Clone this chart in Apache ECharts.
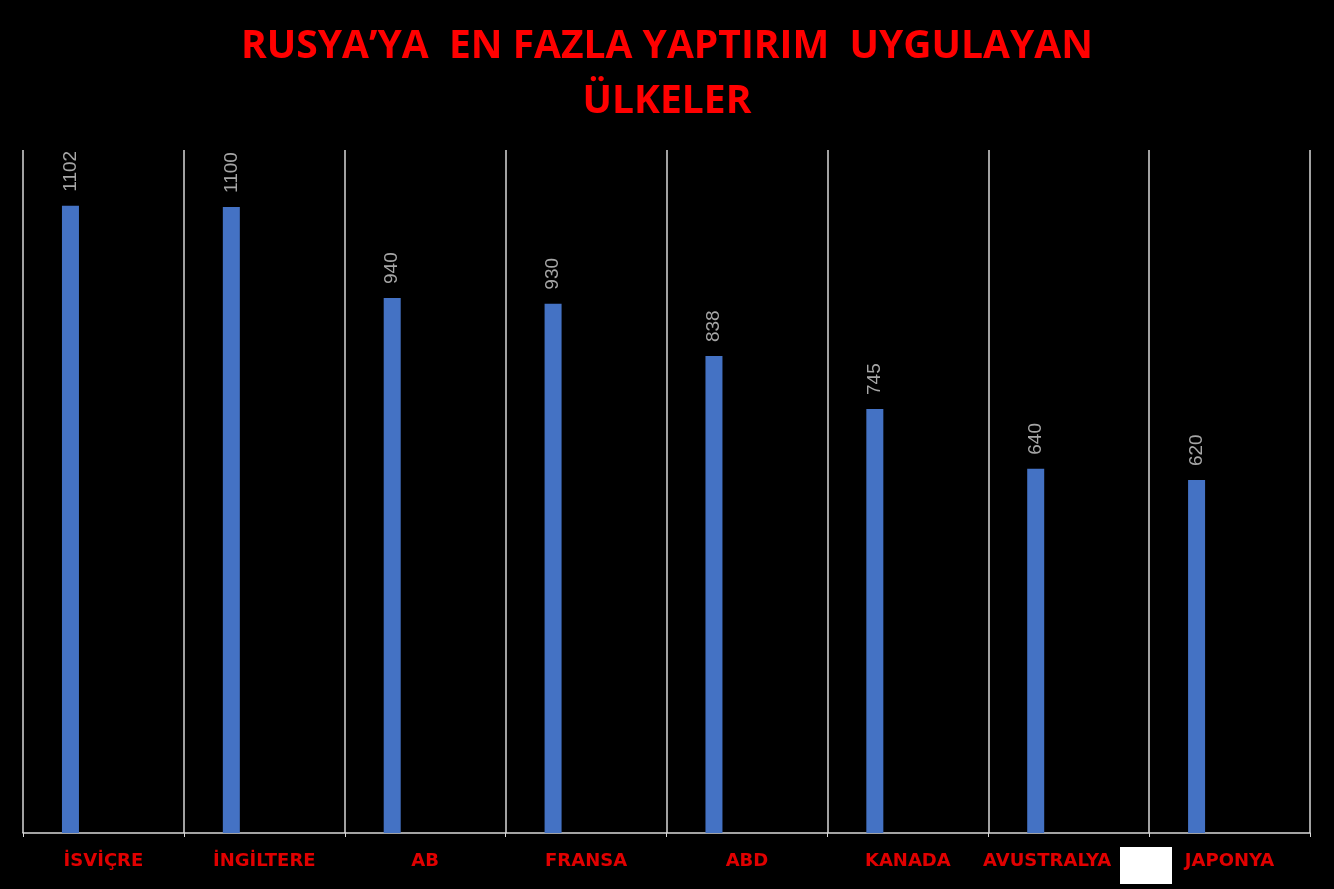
<!DOCTYPE html>
<html>
<head>
<meta charset="utf-8">
<script src="https://cdn.jsdelivr.net/npm/echarts@6/dist/echarts.min.js"></script>
<style>
  html, body { margin: 0; padding: 0; background: #000; }
  #chart { width: 1334px; height: 889px; }
</style>
</head>
<body>
<div id="chart"></div>
<script>
var countries = ['İSVİÇRE', 'İNGİLTERE', 'AB', 'FRANSA', 'ABD', 'KANADA', 'AVUSTRALYA', 'JAPONYA']
var sanctions = [1102, 1100, 940, 930, 838, 745, 640, 620]

var myChart = echarts.init(document.getElementById('chart'))

var labelFont = {
  color: '#e00000',
  fontFamily: 'DejaVu Sans',
  fontWeight: 'bold',
  fontSize: 18
}

var option = {
  backgroundColor: '#000',
  title: {
    text: 'RUSYA’YA  EN FAZLA YAPTIRIM  UYGULAYAN\nÜLKELER',
    left: 'center',
    top: 14,
    textStyle: {
      color: '#ff0000',
      fontFamily: 'Open Sans',
      fontWeight: 'bold',
      fontSize: 39,
      lineHeight: 55
    }
  },
  grid: {
    left: 23,
    right: 24,
    top: 150,
    bottom: 56
  },
  xAxis: {
    type: 'category',
    data: countries,
    axisLine: {
      show: true,
      lineStyle: { color: '#d9d9d9', width: 1.5 }
    },
    axisTick: {
      show: true,
      length: 4,
      lineStyle: { color: '#d9d9d9' }
    },
    splitLine: {
      show: true,
      interval: 0,
      lineStyle: { color: '#d9d9d9', width: 1.5 }
    },
    axisLabel: Object.assign({
      interval: 0,
      margin: 19,
      // in the original this label sits a bit to the left, next to the white box
      formatter: function (value) {
        return value === 'AVUSTRALYA' ? '{shift|' + value + '}' : value
      },
      rich: {
        shift: Object.assign({ padding: [0, 43, 0, 0] }, labelFont)
      }
    }, labelFont)
  },
  yAxis: {
    type: 'value',
    min: 0,
    max: 1200,
    show: false,
    splitLine: { show: false }
  },
  series: [
    {
      type: 'bar',
      data: sanctions,
      barWidth: 17,
      barGap: '288%',
      itemStyle: { color: '#4472c4' },
      label: {
        show: true,
        position: 'top',
        rotate: 90,
        align: 'left',
        verticalAlign: 'middle',
        distance: 14,
        color: '#a6a6a6',
        fontFamily: 'Liberation Sans',
        fontSize: 19
      }
    },
    {
      // placeholder series, keeps the blue bars on the left half like the original
      type: 'bar',
      data: [],
      barWidth: 17,
      itemStyle: { color: '#ed7d31' }
    }
  ],
  graphic: [
    {
      type: 'rect',
      shape: { x: 1120, y: 847, width: 52, height: 37 },
      style: { fill: '#fff' },
      z: 100
    }
  ]
}

myChart.setOption(option)
</script>
</body>
</html>
